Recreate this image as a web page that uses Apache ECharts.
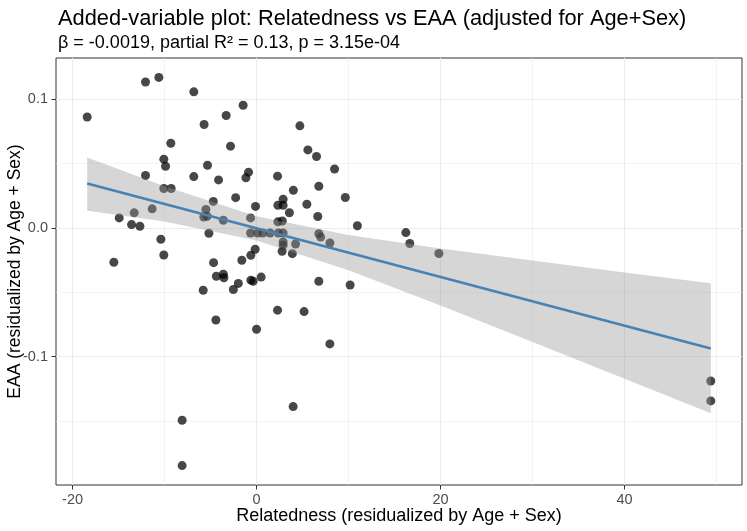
<!DOCTYPE html>
<html>
<head>
<meta charset="utf-8">
<title>Added-variable plot</title>
<script src="https://cdn.jsdelivr.net/npm/echarts@6/dist/echarts.min.js"></script>
<style>
	html,body{margin:0;padding:0;background:#fff;}
	#chart{width:747px;height:531px;}
</style>
</head>
<body>
<div id="chart"></div>
<script>
	// residuals (x: Relatedness, y: EAA)
	var relX = [-18.41,-12.07,-10.62,-6.82,-1.46,-3.30,-5.70,4.71,-9.32,-2.83,
		5.58,6.52,-10.08,-9.89,-5.33,8.48,-12.07,-6.82,-4.13,-0.87,
		-1.16,2.28,4.00,6.77,9.65,-10.08,-9.28,-2.27,-4.70,-11.35,
		-13.30,-14.93,-5.51,-5.73,-5.37,-3.61,-13.59,-12.68,-5.18,-0.11,
		2.89,2.32,2.89,3.57,5.47,-0.65,2.32,2.80,6.66,10.96,
		-0.65,0.12,0.68,1.47,2.37,2.89,2.89,2.89,4.24,6.77,
		6.97,7.97,-10.40,-0.15,2.78,3.89,-0.62,-1.60,-10.08,-15.51,
		-4.67,-4.37,-3.61,-3.55,-5.80,-2.52,-1.98,-0.62,-0.37,0.50,
		6.77,10.17,-4.42,0.00,2.28,5.17,7.97,3.98,-8.09,-8.09,
		16.23,16.66,19.82,49.38,49.38];
	var eaaY = [0.0862,0.1134,0.1169,0.1057,0.0953,0.0873,0.0803,0.0793,0.0658,0.0635,
		0.0606,0.0555,0.0534,0.0479,0.0487,0.0458,0.0407,0.0399,0.0373,0.0433,
		0.0389,0.0402,0.0293,0.0324,0.0236,0.0306,0.0306,0.0235,0.0206,0.0148,
		0.0117,0.0078,0.0143,0.0085,0.0091,0.0060,0.0026,0.0013,-0.0041,0.0167,
		0.0223,0.0176,0.0176,0.0118,0.0184,0.0078,0.0047,0.0054,0.0089,0.0017,
		-0.0039,-0.0039,-0.0039,-0.0039,-0.0039,-0.0039,-0.0109,-0.0134,-0.0125,-0.0045,
		-0.0071,-0.0117,-0.0088,-0.0166,-0.0181,-0.0200,-0.0212,-0.0251,-0.0210,-0.0267,
		-0.0270,-0.0375,-0.0360,-0.0387,-0.0484,-0.0478,-0.0431,-0.0406,-0.0414,-0.0382,
		-0.0414,-0.0443,-0.0715,-0.0787,-0.0639,-0.0650,-0.0901,-0.1388,-0.1494,-0.1846,
		-0.0036,-0.0121,-0.0199,-0.1189,-0.1344];

	// fitted line and 95% band
	var fitX = [-18.41, 49.38];
	var fitY = [0.0345, -0.0937];
	var bandX = [-18.41, -10, 0, 10, 20, 30, 40, 49.38];
	var bandUpper = [0.0548, 0.0323, 0.0091, -0.0055, -0.0159, -0.0254, -0.0346, -0.0430];
	var bandLower = [0.0134, 0.0049, -0.0097, -0.0329, -0.0603, -0.0886, -0.1172, -0.1440];

	var xTicks = [-20, 0, 20, 40];
	var yTicks = [-0.1, 0, 0.1];

	var points = relX.map(function(x, i){ return [x, eaaY[i]]; });
	var fitLine = fitX.map(function(x, i){ return [x, fitY[i]]; });

	var myChart = echarts.init(document.getElementById("chart"), null, {renderer:'canvas'});
	var font = "'Liberation Sans', Arial, sans-serif";

	function isTick(v, list){
		for(var i=0;i<list.length;i++){
			if(Math.abs(v - list[i]) < 1e-9) return true;
		}
		return false;
	}

	var option = {
		backgroundColor:'#ffffff',
		animation:false,
		title:[{
			text:'Added-variable plot: Relatedness vs EAA (adjusted for Age+Sex)',
			left:53, top:3,
			textStyle:{fontFamily:font, fontSize:21.8, fontWeight:'normal', color:'#000'}
		},{
			text:'β = -0.0019, partial R² = 0.13, p = 3.15e-04',
			left:53, top:29,
			textStyle:{fontFamily:font, fontSize:18, fontWeight:'normal', color:'#000'}
		}],
		grid:{
			left:56, right:5, top:58, bottom:46,
			show:true, borderColor:'#333333', borderWidth:1,
			containLabel:false, outerBoundsMode:'none'
		},
		xAxis:{
			type:'value',
			min:-21.8, max:52.77,
			splitNumber:4,
			name:'Relatedness (residualized by Age + Sex)',
			nameLocation:'middle', nameGap:22, nameMoveOverlap:false,
			nameTextStyle:{fontFamily:font, fontSize:18, color:'#000'},
			axisLine:{show:false, onZero:false},
			axisTick:{show:true, length:4.5, customValues:xTicks, lineStyle:{color:'#333333'}},
			axisLabel:{
				margin:7, color:'#4d4d4d', fontFamily:font, fontSize:14.5,
				customValues:xTicks,
				formatter:function(v){ return isTick(v, xTicks) ? String(v) : ''; }
			},
			splitLine:{show:true, lineStyle:{color:'#ebebeb', width:1.1}},
			minorTick:{show:false, splitNumber:2},
			minorSplitLine:{show:true, lineStyle:{color:'#ebebeb', width:0.6}}
		},
		yAxis:{
			type:'value',
			min:-0.1997, max:0.132,
			splitNumber:3,
			name:'EAA (residualized by Age + Sex)',
			nameLocation:'middle', nameGap:32, nameMoveOverlap:false,
			nameTextStyle:{fontFamily:font, fontSize:17.5, color:'#000'},
			axisLine:{show:false, onZero:false},
			axisTick:{show:true, length:4.5, customValues:yTicks, lineStyle:{color:'#333333'}},
			axisLabel:{
				margin:8, color:'#4d4d4d', fontFamily:font, fontSize:14.5,
				customValues:yTicks,
				formatter:function(v){ return isTick(v, yTicks) ? v.toFixed(1) : ''; }
			},
			splitLine:{show:true, lineStyle:{color:'#ebebeb', width:1.1}},
			minorTick:{show:false, splitNumber:2},
			minorSplitLine:{show:true, lineStyle:{color:'#ebebeb', width:0.6}}
		},
		series:[{
			name:'points',
			type:'scatter',
			z:2,
			data:points,
			symbol:'circle',
			symbolSize:9,
			itemStyle:{color:'rgba(0,0,0,0.9)'},
			emphasis:{disabled:true}
		},{
			name:'band',
			type:'custom',
			z:3,
			data:[0],
			renderItem:function(params, api){
				var pts = [];
				for(var i=0;i<bandX.length;i++){
					pts.push(api.coord([bandX[i], bandUpper[i]]));
				}
				for(var j=bandX.length-1;j>=0;j--){
					pts.push(api.coord([bandX[j], bandLower[j]]));
				}
				return {
					type:'polygon',
					shape:{points:pts},
					style:{fill:'rgba(153,153,153,0.4)', stroke:null}
				};
			},
			silent:true
		},{
			name:'fit',
			type:'line',
			z:4,
			data:fitLine,
			symbol:'none',
			lineStyle:{color:'#4682b4', width:2.6},
			silent:true
		}]
	};
	myChart.setOption(option);
</script>
</body>
</html>
